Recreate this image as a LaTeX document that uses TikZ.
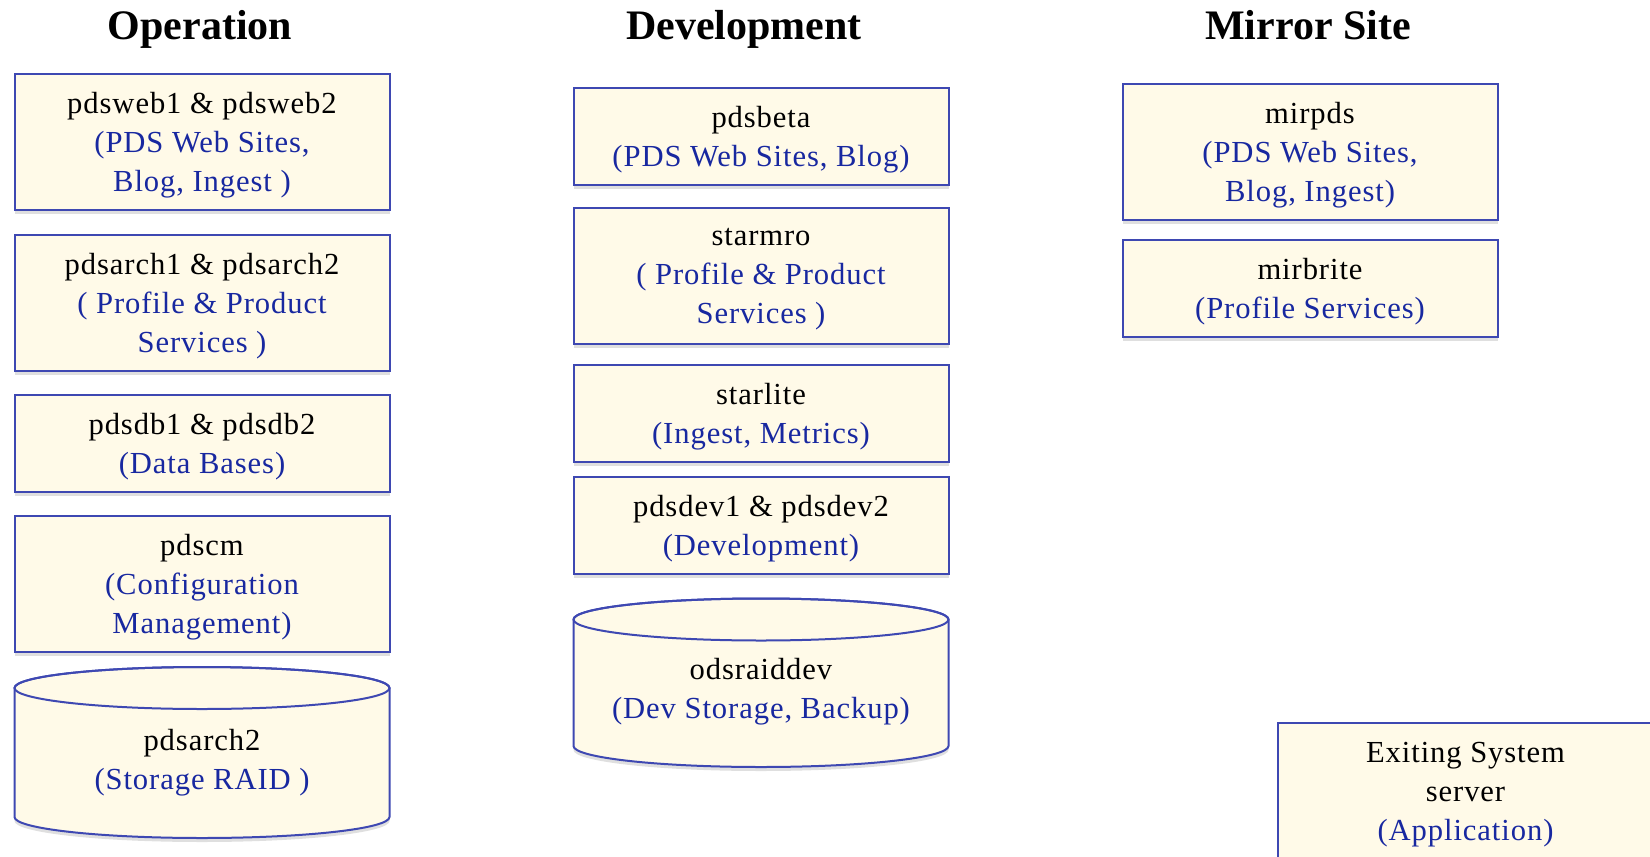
\documentclass[tikz,border=0pt]{standalone}
\usepackage{fontspec}
\setmainfont{Liberation Serif}
\newfontfamily\srvfont{Liberation Serif}[LetterSpace=3]
\usetikzlibrary{shadows}
\definecolor{boxfill}{RGB}{255,250,232}
\definecolor{boxline}{RGB}{62,72,178}
\definecolor{svctext}{RGB}{24,40,160}
\newcommand{\svc}[1]{\textcolor{svctext}{#1}}
\begin{document}
\begin{tikzpicture}
[x=0.5pt,y=-0.5pt,%
  every node/.append style={font=\srvfont\fontsize{15.3pt}{19.5pt}\selectfont,text depth=-3pt},%
  title/.style={anchor=base,font=\fontsize{21pt}{24pt}\selectfont\bfseries},%
  srvbox/.style={draw=boxline,line width=1pt,fill=boxfill,align=center,%
    minimum width=187.5pt,inner sep=0pt,%
    drop shadow={shadow xshift=0pt,shadow yshift=-2pt,opacity=.25}},%
  tall/.style={minimum height=68pt},%
  short/.style={minimum height=48.5pt},%
  disk/.style={draw=boxline,line width=1pt,fill=boxfill,%
    drop shadow={shadow xshift=0pt,shadow yshift=-2pt,opacity=.25}}]
\useasboundingbox (0,0) rectangle (1650,857);
% column titles
\node[title] (optitle) at (200,39) {Operation};
\node[title] (devtitle) at (744,39) {Development};
\node[title] (mirtitle) at (1308,39) {Mirror Site};
% operation
\node[srvbox,tall] (pdsweb) at (202,142) {pdsweb1 \& pdsweb2\\ \svc{(PDS Web Sites,}\\ \svc{Blog, Ingest )}};
\node[srvbox,tall] (pdsarch) at (202,302.5) {pdsarch1 \& pdsarch2\\ \svc{( Profile \& Product}\\ \svc{Services )}};
\node[srvbox,short] (pdsdb) at (202,443.5) {pdsdb1 \& pdsdb2\\ \svc{(Data Bases)}};
\node[srvbox,tall] (pdscm) at (202,584) {pdscm\\ \svc{(Configuration}\\ \svc{Management)}};
\path[disk] (14.5,688) -- (14.5,817) arc[start angle=180,end angle=0,x radius=187.5,y radius=21]
  -- (389.5,688) arc[start angle=0,end angle=-180,x radius=187.5,y radius=21] -- cycle;
\draw[boxline,line width=1pt] (202,688) ellipse[x radius=187.5,y radius=21];
\node[align=center] (pdsraid) at (202,759) {pdsarch2\\ \svc{(Storage RAID )}};
% development
\node[srvbox,short] (pdsbeta) at (761,136.5) {pdsbeta\\ \svc{(PDS Web Sites, Blog)}};
\node[srvbox,tall] (starmro) at (761,275.5) {starmro\\ \svc{( Profile \& Product}\\ \svc{Services )}};
\node[srvbox,short] (starlite) at (761,413.5) {starlite\\ \svc{(Ingest, Metrics)}};
\node[srvbox,short] (pdsdev) at (761,525) {pdsdev1 \& pdsdev2\\ \svc{(Development)}};
\path[disk] (573.5,619.5) -- (573.5,746) arc[start angle=180,end angle=0,x radius=187.5,y radius=21]
  -- (948.5,619.5) arc[start angle=0,end angle=-180,x radius=187.5,y radius=21] -- cycle;
\draw[boxline,line width=1pt] (761,619.5) ellipse[x radius=187.5,y radius=21];
\node[align=center] (odsraid) at (761,688) {odsraiddev\\ \svc{(Dev Storage, Backup)}};
% mirror site
\node[srvbox,tall] (mirpds) at (1310,151.5) {mirpds\\ \svc{(PDS Web Sites,}\\ \svc{Blog, Ingest)}};
\node[srvbox,short] (mirbrite) at (1310,288.5) {mirbrite\\ \svc{(Profile Services)}};
% legend
\node[srvbox,tall] (legend) at (1465.5,791) {Exiting System\\ server\\ \svc{(Application)}};
\end{tikzpicture}
\end{document}
